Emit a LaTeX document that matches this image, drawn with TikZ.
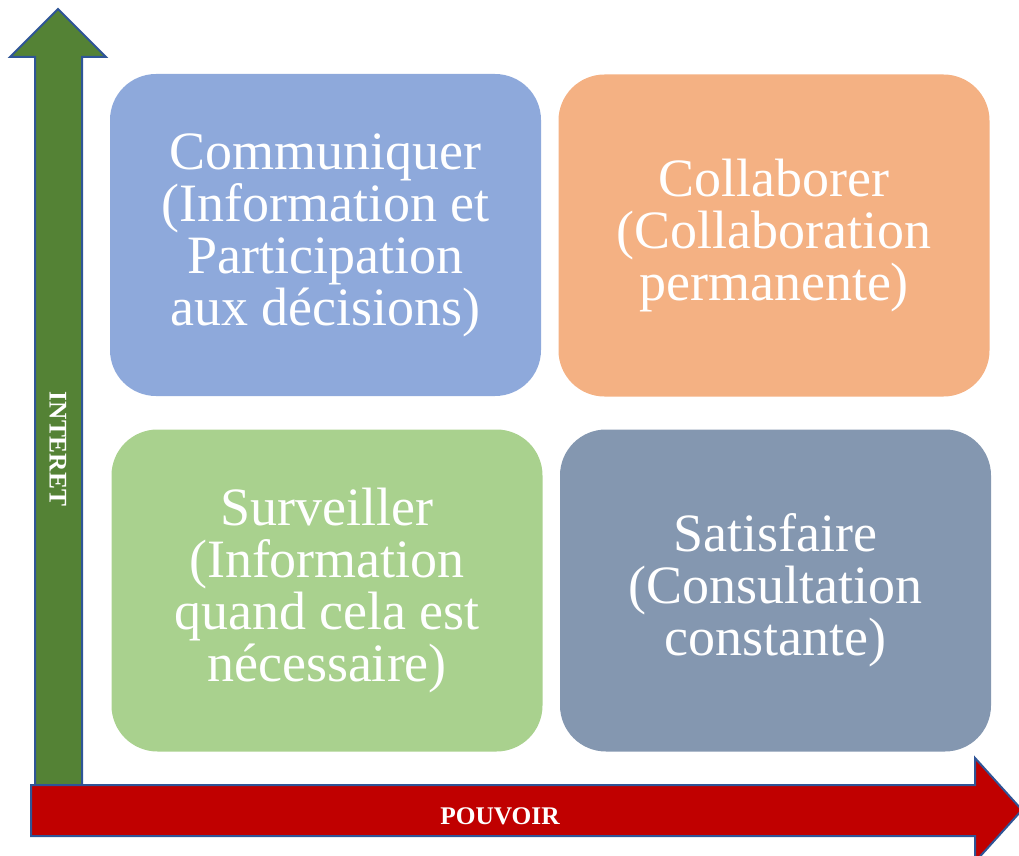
\documentclass[tikz,border=0pt]{standalone}
\usepackage{fontspec}
\setmainfont{Liberation Serif}
\usepackage{tikz}

\definecolor{boxblue}{HTML}{8EA9DB}
\definecolor{boxorange}{HTML}{F4B183}
\definecolor{boxgreen}{HTML}{A9D18E}
\definecolor{boxslate}{HTML}{8497B0}
\definecolor{axisgreen}{HTML}{548235}
\definecolor{axisred}{HTML}{C00000}
\definecolor{edgeblue}{HTML}{2F5597}

\tikzset{
	quadrant/.style={rectangle, rounded corners=23pt,
		minimum width=215.5pt, minimum height=161pt,
		text=white, align=center,
		font=\fontsize{27}{26}\selectfont},
	axisarrow/.style={draw=edgeblue, line width=1pt, line join=miter},
	axislabel/.style={text=white, font=\fontsize{12.7}{14}\selectfont\bfseries}
}

\begin{document}
\begin{tikzpicture}[x=0.5pt, y=-0.5pt]
	\useasboundingbox (0,0) rectangle (1019,856);
	% axes
	\draw[axisarrow, fill=axisgreen] (35,800) -- (35,57) -- (10,57) -- (58,9)
		-- (106,57) -- (82,57) -- (82,800) -- cycle;
	\draw[axisarrow, fill=axisred] (31,785) -- (975,785) -- (975,758) -- (1022,810)
		-- (975,862) -- (975,836) -- (31,836) -- cycle;
	\node[axislabel, rotate=-90] (interet) at (58,449) {INTERET};
	\node[axislabel] (pouvoir) at (500,816) {POUVOIR};
	% quadrants
	\node[quadrant, fill=boxblue] (communiquer) at (325.5,235)
		{Communiquer\\(Information et\\Participation\\aux décisions)};
	\node[quadrant, fill=boxorange] (collaborer) at (774,235.5)
		{Collaborer\\(Collaboration\\permanente)};
	\node[quadrant, fill=boxgreen] (surveiller) at (327,590.5)
		{Surveiller\\(Information\\quand cela est\\nécessaire)};
	\node[quadrant, fill=boxslate] (satisfaire) at (775.5,590.5)
		{Satisfaire\\(Consultation\\constante)};
\end{tikzpicture}
\end{document}
